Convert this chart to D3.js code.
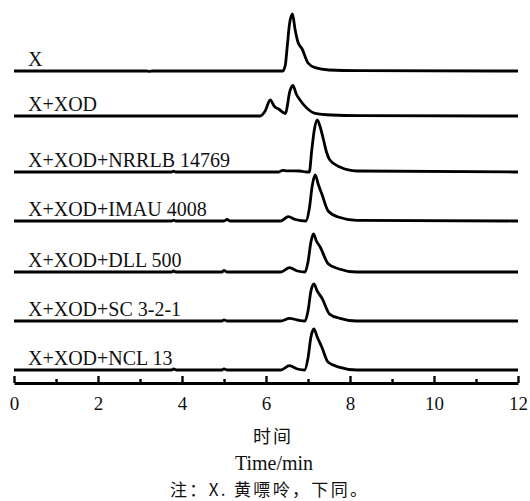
<!DOCTYPE html>
<html>
<head>
<meta charset="utf-8">
<script src="https://d3js.org/d3.v7.min.js"></script>
<style>
  body { margin: 0; background: #fff; }
  svg text { fill: #111; }
  .serif { font-family: 'Liberation Serif', 'Times New Roman', serif; }
  .cjk { font-family: 'Noto Sans CJK SC', sans-serif; }
</style>
</head>
<body>
<div class="chart"></div>
<script>
// Trace names, top to bottom
const names = ['X', 'X+XOD', 'X+XOD+NRRLB 14769', 'X+XOD+IMAU 4008',
  'X+XOD+DLL 500', 'X+XOD+SC 3-2-1', 'X+XOD+NCL 13'];

// Stacking offsets (same units as the signal)
const offsets = [299, 254, 198, 149, 98, 49, 0];

// Each trace as [time (min), signal]
const traceX = [[0,0],[3.15,0],[3.22,-0.4],[3.3,0],[6.4,0],[6.46,6],[6.5,22],[6.56,47],[6.63,57],
  [6.69,42],[6.76,29],[6.86,22],[7.0,8],[7.17,3.3],[7.5,1],[8.2,0.3],[12,0]];
const traceXOD = [[0,0],[5.86,0],[5.98,5],[6.1,16],[6.2,9.5],[6.3,7],[6.46,2.5],[6.57,25],[6.64,30.5],
  [6.72,22],[6.81,16],[6.97,8],[7.17,2.7],[7.56,1],[8.2,0.3],[12,0]];
const traceNRRLB = [[0,0],[3.75,0],[3.8,0.8],[3.85,0],[6.3,0],[6.4,1.7],[6.5,1.2],[6.8,1],[6.97,0],
  [7.03,0],[7.09,22],[7.15,42],[7.22,52],[7.29,45],[7.37,32],[7.44,20],[7.52,12],[7.76,5],[8.16,1],[12,0]];
const traceIMAU = [[0,0],[3.75,0],[3.8,0.8],[3.85,0],[5.0,0],[5.07,1.5],[5.15,0],[6.35,0],[6.53,4.3],
  [6.7,1.5],[6.95,0],[7.03,12],[7.1,35],[7.17,46],[7.25,36],[7.33,27],[7.48,10],[7.72,4],[8.16,0.7],[12,0]];
const traceDLL = [[0,0],[3.75,0],[3.8,1],[3.85,0],[4.95,0],[5.0,1.5],[5.07,0],[6.35,0],[6.56,4.3],
  [6.75,1],[6.93,0],[7.0,10],[7.07,30],[7.13,38],[7.2,31],[7.29,25],[7.48,8.3],[7.72,3.3],[8.16,0],[12,0]];
const traceSC = [[0,0],[4.95,0],[5.0,1.2],[5.07,0],[6.35,0],[6.56,2.7],[6.75,1],[6.93,0],[7.0,10],
  [7.07,30],[7.14,37],[7.22,30],[7.33,23],[7.52,6.7],[7.76,2.7],[8.16,0],[12,0]];
const traceNCL = [[0,0],[3.75,0],[3.8,1],[3.87,0],[4.95,0],[5.0,1.2],[5.07,0],[6.35,0],[6.56,4.3],
  [6.75,1],[6.92,0],[7.0,12],[7.07,33],[7.14,41],[7.22,33],[7.33,22.7],[7.48,7.7],[7.76,2.7],[8.16,0],[12,0]];

const traces = [traceX, traceXOD, traceNRRLB, traceIMAU, traceDLL, traceSC, traceNCL];

const majorTicks = [0, 2, 4, 6, 8, 10, 12];
const minorTicks = [1, 3, 5, 7, 9, 11];

const xTitleCn = '时间';
const xTitleEn = 'Time/min';
const note = '注：X. 黄嘌呤，下同。';

const width = 530, height = 501;

const svg = d3.select('.chart').append('svg')
  .attr('width', width)
  .attr('height', height);

const x = d3.scaleLinear().domain([0, 12]).range([14, 518]);
const y = d3.scaleLinear().domain([-13, 300]).range([383, 70]);

const line = d3.line()
  .x(d => x(d[0]))
  .y(d => y(d[1]))
  .curve(d3.curveMonotoneX);

// Traces
const g = svg.append('g');
traces.forEach(function(tr, i) {
  g.append('path')
    .datum(tr.map(d => [d[0], d[1] + offsets[i]]))
    .attr('fill', 'none')
    .attr('stroke', '#000')
    .attr('stroke-width', 2.8)
    .attr('stroke-linejoin', 'round')
    .attr('d', line);

  g.append('text')
    .attr('class', 'serif')
    .attr('x', 28)
    .attr('y', y(offsets[i]) - 5)
    .attr('font-size', 20)
    .text(names[i]);
});

// Axis (ticks point inward)
const axis = svg.append('g')
  .attr('transform', 'translate(0,383)')
  .call(d3.axisBottom(x).tickValues(majorTicks).tickSize(-7).tickSizeOuter(0).tickPadding(14));
axis.attr('font-family', null).attr('font-size', null);
axis.select('.domain').attr('stroke', '#000').attr('stroke-width', 2.8);
axis.selectAll('.tick line').attr('stroke', '#000').attr('stroke-width', 2.4);
axis.selectAll('.tick text')
  .attr('class', 'serif')
  .attr('font-size', 19)
  .attr('fill', '#111');

const minor = svg.append('g')
  .attr('transform', 'translate(0,383)')
  .call(d3.axisBottom(x).tickValues(minorTicks).tickSize(-4).tickFormat(''));
minor.select('.domain').remove();
minor.selectAll('.tick line').attr('stroke', '#000').attr('stroke-width', 2.4);

// Titles
svg.append('text')
  .attr('class', 'cjk')
  .attr('x', 273).attr('y', 443)
  .attr('text-anchor', 'middle')
  .attr('font-size', 18)
  .style('letter-spacing', '2px')
  .text(xTitleCn);

svg.append('text')
  .attr('class', 'serif')
  .attr('x', 274).attr('y', 470)
  .attr('text-anchor', 'middle')
  .attr('font-size', 20)
  .text(xTitleEn);

svg.append('text')
  .attr('class', 'cjk')
  .attr('x', 170).attr('y', 496)
  .attr('textLength', 197)
  .attr('lengthAdjust', 'spacing')
  .attr('font-size', 17)
  .text(note);
</script>
</body>
</html>
